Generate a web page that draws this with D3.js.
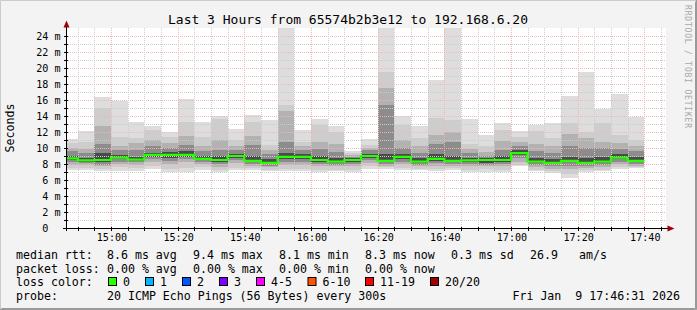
<!DOCTYPE html>
<html>
<head>
<meta charset="utf-8">
<script src="https://cdn.jsdelivr.net/npm/d3@7"></script>
<style>
body { margin: 0; background: #f3f3f3; }
svg { display: block; }
text { font-family: "DejaVu Sans Mono", monospace; fill: #000; }
</style>
</head>
<body>
<div id="chart"></div>
<script>
// 5 minute steps, each value belongs to the step ending at that time
var barEnds = ["14:50","14:55","15:00","15:05","15:10","15:15","15:20","15:25","15:30","15:35",
  "15:40","15:45","15:50","15:55","16:00","16:05","16:10","16:15","16:20","16:25",
  "16:30","16:35","16:40","16:45","16:50","16:55","17:00","17:05","17:10","17:15",
  "17:20","17:25","17:30","17:35","17:40"];

// sorted ping rtt (ms) at a few ranks out of 20
var p1  = [7.25,7.25,7.1,7.1,7.1,7.4,7.0,7.0,7.2,7.0,7.2,7.2,7.1,7.1,7.1,7.0,7.1,7.0,7.4,7.4,7.2,7.2,7.1,7.3,7.0,7.0,7.0,7.7,7.1,6.9,6.3,7.0,7.1,7.4,7.5];
var p2  = [7.5,7.5,7.4,7.6,7.5,7.8,7.4,7.5,7.6,7.2,7.5,7.5,7.3,7.4,7.4,7.3,7.3,7.3,7.7,7.6,7.5,7.4,7.4,7.5,7.3,7.4,7.3,7.9,7.3,7.1,6.8,7.2,7.3,7.6,7.6];
var p4  = [7.9,7.9,7.7,8.0,7.9,8.2,8.0,8.2,8.0,7.6,8.1,7.8,7.6,7.9,7.9,7.7,7.7,7.7,8.1,7.8,8.0,7.7,7.8,7.8,7.7,7.7,7.7,8.3,7.6,7.4,7.4,7.5,7.6,8.0,7.8];
var p6  = [8.2,8.1,7.9,8.3,8.2,8.6,8.4,8.6,8.3,8.0,8.5,8.0,7.8,8.3,8.3,8.0,7.9,8.0,8.5,8.0,8.3,7.9,8.1,8.0,8.0,7.9,8.0,8.7,7.9,7.7,7.8,7.8,7.9,8.3,8.0];
var p9  = [8.5,8.3,8.2,8.6,8.4,8.9,8.8,8.9,8.5,8.3,8.8,8.2,8.0,8.6,8.6,8.3,8.1,8.3,8.8,8.2,8.6,8.1,8.4,8.2,8.3,8.1,8.3,9.1,8.1,8.0,8.2,8.0,8.1,8.6,8.2];
var median = [8.7,8.45,8.5,8.8,8.55,9.15,9.15,9.15,8.65,8.5,9.0,8.4,8.15,8.9,8.9,8.5,8.3,8.5,9.0,8.4,8.9,8.3,8.65,8.4,8.45,8.5,8.5,9.35,8.3,8.15,8.4,8.15,8.3,8.8,8.4];
var p12 = [9.0,8.8,9.4,9.1,8.9,9.4,9.5,9.6,9.0,9.0,9.3,9.0,8.6,9.4,9.2,9.0,8.7,8.7,9.3,9.3,9.2,8.7,9.2,9.0,8.8,8.7,9.0,9.7,8.8,8.6,8.9,8.7,8.9,9.2,8.9];
var p15 = [9.6,9.4,10.5,9.7,9.7,10.2,10.0,10.4,9.6,9.8,9.7,10.4,9.3,10.8,9.7,9.9,9.5,8.9,9.7,15.4,10.0,9.4,10.5,10.8,9.4,9.0,9.8,10.2,9.6,9.4,10.2,10.0,10.0,9.9,9.6];
var p17 = [10.0,9.9,12.7,10.2,10.6,11.0,10.6,11.5,10.3,11.0,10.2,11.5,9.8,14.6,10.2,10.8,10.5,9.1,10.0,17.5,11.0,10.2,11.6,12.0,9.9,9.5,10.9,10.8,10.5,10.3,11.7,11.2,10.8,10.6,10.2];
var p19 = [10.6,10.7,15.0,11.4,11.3,12.3,11.4,13.2,11.4,13.6,11.0,13.2,10.4,15.4,10.8,12.9,12.0,9.4,10.4,19.5,12.9,11.3,13.8,13.5,10.5,10.2,12.2,11.4,12.1,11.3,13.1,12.0,13.1,11.6,11.0];
var p20 = [11.1,12.1,16.4,15.9,13.2,12.7,12.0,16.1,13.2,14.0,12.4,14.1,13.5,26.0,12.25,13.6,12.75,9.6,11.1,27.0,14.0,12.7,18.5,26.5,13.6,11.6,13.1,12.1,12.9,13.1,16.5,19.5,14.9,16.7,13.9];

var yTicks = [0,2,4,6,8,10,12,14,16,18,20,22,24];
var xTickLabels = ["15:00","15:20","15:40","16:00","16:20","16:40","17:00","17:20","17:40"];

var lossLabels = ["0","1","2","3","4-5","6-10","11-19","20/20"];
var lossColors = ["#26ff00","#00b8ff","#0059ff","#7e00ff","#ff00ff","#ff5500","#ff0000","#a00000"];

var rttStats = ["8.6 ms avg","9.4 ms max","8.1 ms min","8.3 ms now","0.3 ms sd"];
var lossStats = ["0.00 % avg","0.00 % max","0.00 % min","0.00 % now"];

var W = 697, H = 310;
var NB = "\u00a0";
var parse = d3.timeParse("%Y-%m-%d %H:%M:%S");
var day = "2026-01-09 ";
var tStart = parse(day + "14:46:31"), tEnd = parse(day + "17:46:31");

var x = d3.scaleTime().domain([tStart, tEnd]).range([66, 666]);
var y = d3.scaleLinear().domain([0, 25]).range([228, 28]);

var svg = d3.select("#chart").append("svg")
  .attr("width", W).attr("height", H);

// frame
svg.append("rect").attr("width", W).attr("height", H).attr("fill", "#f3f3f3");
svg.append("path").attr("d", "M0.5," + (H - 1) + "V0.5H" + (W - 1)).attr("stroke", "#cbcbcb").attr("fill", "none");
svg.append("path").attr("d", "M1.5," + (H - 1.5) + "H" + (W - 1.5) + "V1.5").attr("stroke", "#999").attr("fill", "none");
svg.append("path").attr("d", "M0," + (H - 0.5) + "H" + (W - 0.5) + "V0").attr("stroke", "#999").attr("fill", "none");

// canvas
svg.append("rect")
  .attr("x", x.range()[0]).attr("y", y.range()[1])
  .attr("width", x.range()[1] - x.range()[0]).attr("height", y.range()[0] - y.range()[1])
  .attr("fill", "#fff");

svg.append("clipPath").attr("id", "plot").append("rect")
  .attr("x", x.range()[0]).attr("y", y.range()[1])
  .attr("width", x.range()[1] - x.range()[0]).attr("height", y.range()[0] - y.range()[1]);

var bars = barEnds.map(function (s, i) {
  var t1 = parse(day + s + ":00");
  var t0 = new Date(Math.max(+tStart, +t1 - 5 * 60 * 1000));
  return { t0: t0, t1: t1, i: i };
});

// smoke: outer pairs light, inner pairs dark
var bands = [
  { lo: p1, hi: p20, color: "#dddddd" },
  { lo: p2, hi: p19, color: "#cdcdcd" },
  { lo: p4, hi: p17, color: "#b2b2b2" },
  { lo: p6, hi: p15, color: "#8c8c8c" },
  { lo: p9, hi: p12, color: "#4a4a4a" }
];

var smoke = svg.append("g").attr("clip-path", "url(#plot)");
bands.forEach(function (b) {
  smoke.append("g").selectAll("rect").data(bars).enter().append("rect")
    .attr("x", function (d) { return x(d.t0); })
    .attr("width", function (d) { return x(d.t1) - x(d.t0); })
    .attr("y", function (d) { return y(b.hi[d.i]); })
    .attr("height", function (d) { return y(b.lo[d.i]) - y(b.hi[d.i]); })
    .attr("fill", b.color)
    .attr("shape-rendering", "crispEdges");
});

// grid
var grid = svg.append("g").attr("stroke-dasharray", "1,1").attr("stroke-width", 1)
  .attr("shape-rendering", "crispEdges");
d3.range(1, 25).forEach(function (v) {
  grid.append("line")
    .attr("x1", x.range()[0]).attr("x2", x.range()[1])
    .attr("y1", Math.round(y(v)) + 0.5).attr("y2", Math.round(y(v)) + 0.5)
    .attr("stroke", v % 2 ? "#cccccc" : "#f4b4b4");
});
x.ticks(d3.timeMinute.every(5)).forEach(function (t) {
  var major = t.getMinutes() % 20 === 0;
  grid.append("line")
    .attr("x1", Math.round(x(t)) + 0.5).attr("x2", Math.round(x(t)) + 0.5)
    .attr("y1", y.range()[1]).attr("y2", y.range()[0])
    .attr("stroke", major ? "#f4b4b4" : "#cccccc");
});

// median line
var medPts = [];
bars.forEach(function (d) {
  medPts.push([x(d.t0), y(median[d.i])]);
  medPts.push([x(d.t1), y(median[d.i])]);
});
svg.append("path")
  .attr("d", d3.line()(medPts))
  .attr("fill", "none")
  .attr("stroke", lossColors[0])
  .attr("stroke-width", 2.2);

// axes
var yAxis = d3.axisLeft(y)
  .tickValues(yTicks)
  .tickSize(0)
  .tickPadding(6)
  .tickFormat(function (d) { return d === 0 ? "0" + NB + NB : d + NB + "m"; });
var gy = svg.append("g").attr("transform", "translate(66.5,0)").call(yAxis);
gy.select(".domain").remove();
gy.selectAll("text").attr("font-size", "10.1px").attr("font-family", "DejaVu Sans Mono").attr("dy", "0.36em");

var xAxis = d3.axisBottom(x)
  .tickValues(xTickLabels.map(function (s) { return parse(day + s + ":00"); }))
  .tickSize(0)
  .tickPadding(6)
  .tickFormat(d3.timeFormat("%H:%M"));
var gx = svg.append("g").attr("transform", "translate(0.5,228)").call(xAxis);
gx.select(".domain").remove();
gx.selectAll("text").attr("font-size", "10.1px").attr("font-family", "DejaVu Sans Mono");

// small ticks on the axes
var ticks = svg.append("g").attr("stroke", "#000").attr("shape-rendering", "crispEdges");
d3.range(0, 25).forEach(function (v) {
  ticks.append("line").attr("x1", 64).attr("x2", 68)
    .attr("y1", Math.round(y(v)) + 0.5).attr("y2", Math.round(y(v)) + 0.5);
});
x.ticks(d3.timeMinute.every(5)).forEach(function (t) {
  ticks.append("line").attr("y1", 227).attr("y2", 231)
    .attr("x1", Math.round(x(t)) + 0.5).attr("x2", Math.round(x(t)) + 0.5);
});

svg.append("line").attr("x1", 66.5).attr("x2", 66.5).attr("y1", 231).attr("y2", 24).attr("stroke", "#000");
svg.append("line").attr("x1", 63).attr("x2", 670).attr("y1", 228.5).attr("y2", 228.5).attr("stroke", "#000");
svg.append("path").attr("d", "M63.5,27.5L66.5,20.5L69.5,27.5Z").attr("fill", "#a00000");
svg.append("path").attr("d", "M667.5,225.5L674.5,228.5L667.5,231.5Z").attr("fill", "#a00000");

// title and unit label
svg.append("text").attr("x", 348).attr("y", 24).attr("text-anchor", "middle")
  .attr("font-size", "13px").text("Last 3 Hours from 65574b2b3e12 to 192.168.6.20");
svg.append("text").attr("transform", "translate(14,128) rotate(-90)").attr("text-anchor", "middle")
  .attr("font-size", "11.6px").text("Seconds");
svg.append("text").attr("transform", "translate(685,5) rotate(90)")
  .attr("font-size", "8px").style("fill", "#a8a8a8")
  .attr("textLength", 123).attr("lengthAdjust", "spacing")
  .text("RRDTOOL / TOBI OETIKER");

// legend
var lg = svg.append("g").attr("font-size", "11.6px");
var colX = [107, 193, 279, 365, 451];
lg.append("text").attr("x", 16).attr("y", 258.5).text("median rtt:");
rttStats.forEach(function (s, i) { lg.append("text").attr("x", colX[i]).attr("y", 258.5).text(s); });
lg.append("text").attr("x", 530).attr("y", 258.5).text("26.9");
lg.append("text").attr("x", 579).attr("y", 258.5).text("am/s");

lg.append("text").attr("x", 16).attr("y", 272.5).text("packet loss:");
lossStats.forEach(function (s, i) { lg.append("text").attr("x", colX[i]).attr("y", 272.5).text(s); });

lg.append("text").attr("x", 16).attr("y", 286).text("loss color:");
var boxX = [108, 145, 182, 219, 256, 307.5, 365, 430];
lossLabels.forEach(function (s, i) {
  lg.append("rect").attr("x", boxX[i] + 0.5).attr("y", 277.5).attr("width", 8).attr("height", 8)
    .attr("fill", lossColors[i]).attr("stroke", "#000");
  lg.append("text").attr("x", boxX[i] + 15).attr("y", 286).text(s);
});

lg.append("text").attr("x", 16).attr("y", 300).text("probe:");
lg.append("text").attr("x", 107).attr("y", 300).text("20 ICMP Echo Pings (56 Bytes) every 300s");
lg.append("text").attr("x", 680).attr("y", 300).attr("text-anchor", "end").text("Fri Jan" + NB + NB + "9 17:46:31 2026");
</script>
</body>
</html>
